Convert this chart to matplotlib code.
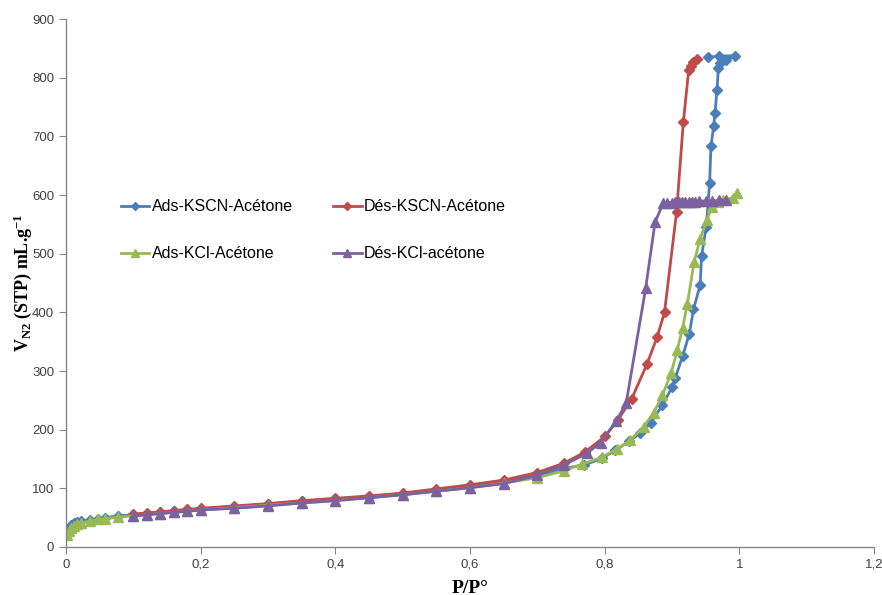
import numpy as np
import matplotlib
matplotlib.use("Agg")
import matplotlib.pyplot as plt
from matplotlib.ticker import FuncFormatter

# ---- data ----
ads_kscn_x = [0.001, 0.004, 0.008, 0.012, 0.016, 0.022, 0.035, 0.048, 0.058, 0.078, 0.1, 0.12, 0.14, 0.16,
              0.18, 0.2, 0.25, 0.3, 0.35, 0.4, 0.45, 0.5, 0.55, 0.6, 0.65, 0.7, 0.74, 0.77, 0.796, 0.816,
              0.836, 0.853, 0.869, 0.886, 0.9, 0.905, 0.916, 0.926, 0.932, 0.942, 0.944, 0.951, 0.956,
              0.958, 0.962, 0.964, 0.967, 0.969, 0.971, 0.98, 0.993, 0.97, 0.953]
ads_kscn_y = [25, 33, 38, 41, 43, 44, 46, 48, 50, 53, 55, 57, 59, 61,
              63, 65, 69, 73, 78, 82, 86, 91, 97, 104, 112, 122, 134, 140, 151, 165,
              180, 194, 212, 242, 272, 288, 326, 364, 405, 447, 496, 546, 621,
              683, 718, 740, 780, 816, 825, 830, 838, 837, 835]

des_kscn_x = [0.937, 0.932, 0.928, 0.925, 0.917, 0.907, 0.889, 0.878, 0.863, 0.84, 0.82, 0.801, 0.771,
              0.74, 0.7, 0.65, 0.6, 0.55, 0.5, 0.45, 0.4, 0.35, 0.3, 0.25, 0.2, 0.18, 0.16, 0.14, 0.12, 0.1]
des_kscn_y = [833, 827, 821, 814, 725, 572, 400, 358, 312, 252, 217, 189, 162,
              143, 127, 114, 106, 99, 92, 87, 83, 79, 74, 70, 66, 64, 62, 60, 58, 56]

ads_kcl_x = [0.001, 0.004, 0.008, 0.012, 0.016, 0.022, 0.035, 0.048, 0.058, 0.078, 0.1, 0.12, 0.14, 0.16,
             0.18, 0.2, 0.25, 0.3, 0.35, 0.4, 0.45, 0.5, 0.55, 0.6, 0.65, 0.7, 0.74, 0.766, 0.796, 0.818,
             0.838, 0.858, 0.873, 0.886, 0.899, 0.908, 0.916, 0.923, 0.933, 0.942, 0.952, 0.959, 0.969,
             0.976, 0.99, 0.997]
ads_kcl_y = [20, 27, 32, 36, 39, 41, 44, 47, 48, 51, 53, 55, 57, 59,
             61, 63, 67, 71, 75, 79, 84, 89, 95, 101, 109, 118, 130, 141, 153, 167,
             182, 205, 229, 259, 297, 336, 374, 415, 486, 526, 557, 580, 589,
             592, 595, 603]

des_kcl_x = [0.981, 0.97, 0.96, 0.95, 0.94, 0.935, 0.93, 0.925, 0.92, 0.915, 0.91, 0.905, 0.9, 0.893,
             0.887, 0.875, 0.861, 0.832, 0.817, 0.794, 0.774, 0.74, 0.7, 0.65, 0.6, 0.55, 0.5, 0.45,
             0.4, 0.35, 0.3, 0.25, 0.2, 0.18, 0.16, 0.14, 0.12, 0.1]
des_kcl_y = [591, 591, 590, 590, 590, 589, 589, 589, 589, 588, 588, 588, 587, 587,
             586, 554, 441, 245, 214, 178, 160, 140, 122, 108, 101, 95, 89, 84,
             79, 75, 70, 66, 63, 61, 59, 57, 55, 53]

series = [
    ("Ads-KSCN-Acétone", ads_kscn_x, ads_kscn_y, "#4A7EBB", "D"),
    ("Dés-KSCN-Acétone", des_kscn_x, des_kscn_y, "#BE4B48", "D"),
    ("Ads-KCl-Acétone", ads_kcl_x, ads_kcl_y, "#98B954", "^"),
    ("Dés-KCl-acétone", des_kcl_x, des_kcl_y, "#7D60A0", "^"),
]

plt.rcParams["font.family"] = ["Liberation Sans", "DejaVu Sans"]
plt.rcParams.update({"mathtext.fontset": "custom", "mathtext.rm": "Liberation Serif",
                     "mathtext.bf": "Liberation Serif:bold", "mathtext.it": "Liberation Serif:italic"})
fig = plt.figure(figsize=(8.82, 5.95), dpi=100)
ax = fig.add_axes([0.0748, 0.0807, 0.916, 0.887])

handles = []
for lab, xs, ys, c, m in series:
    ms = 5.5 if m == "D" else 7
    h, = ax.plot(xs, ys, color=c, lw=2, marker=m, ms=ms, mec=c, mfc=c, label=lab)
    handles.append(h)

ax.set_xlim(0, 1.2)
ax.set_ylim(0, 900)
ax.set_xticks(np.arange(0, 1.21, 0.2))
ax.set_yticks(np.arange(0, 901, 100))
ax.xaxis.set_major_formatter(FuncFormatter(lambda v, p: "0" if abs(v) < 1e-9 else ("1" if abs(v - 1) < 1e-9 else f"{v:.1f}".replace(".", ","))))
for s in ["top", "right"]:
    ax.spines[s].set_visible(False)
for s in ["left", "bottom"]:
    ax.spines[s].set_color("#868686")
    ax.spines[s].set_linewidth(1)
ax.tick_params(axis="both", colors="#868686", labelcolor="#404040", labelsize=9.5, length=5, direction="out")

ax.set_xlabel("P/P°", family="Liberation Serif", fontweight="bold", fontsize=14)
ax.xaxis.set_label_coords(0.5, -0.078)
ax.xaxis.label.set_va("center")
ax.set_ylabel(r"V$_{\mathbf{N2}}$ (STP) mL.g$^{\mathbf{-1}}$", family="Liberation Serif",
              fontweight="bold", fontsize=13)
ax.yaxis.set_label_coords(-0.054, 0.5)
ax.yaxis.label.set_va("center")

# legend laid out row by row: KSCN pair on top, KCl pair below
ax.legend(handles=[handles[0], handles[2], handles[1], handles[3]], ncol=2, frameon=False,
          loc="upper left", bbox_to_anchor=(0.05, 0.686), fontsize=11.5, markerscale=0.8,
          handlelength=1.8, handletextpad=0.15, columnspacing=2.5, labelspacing=2.0)

fig.savefig("out.png", dpi=100)
